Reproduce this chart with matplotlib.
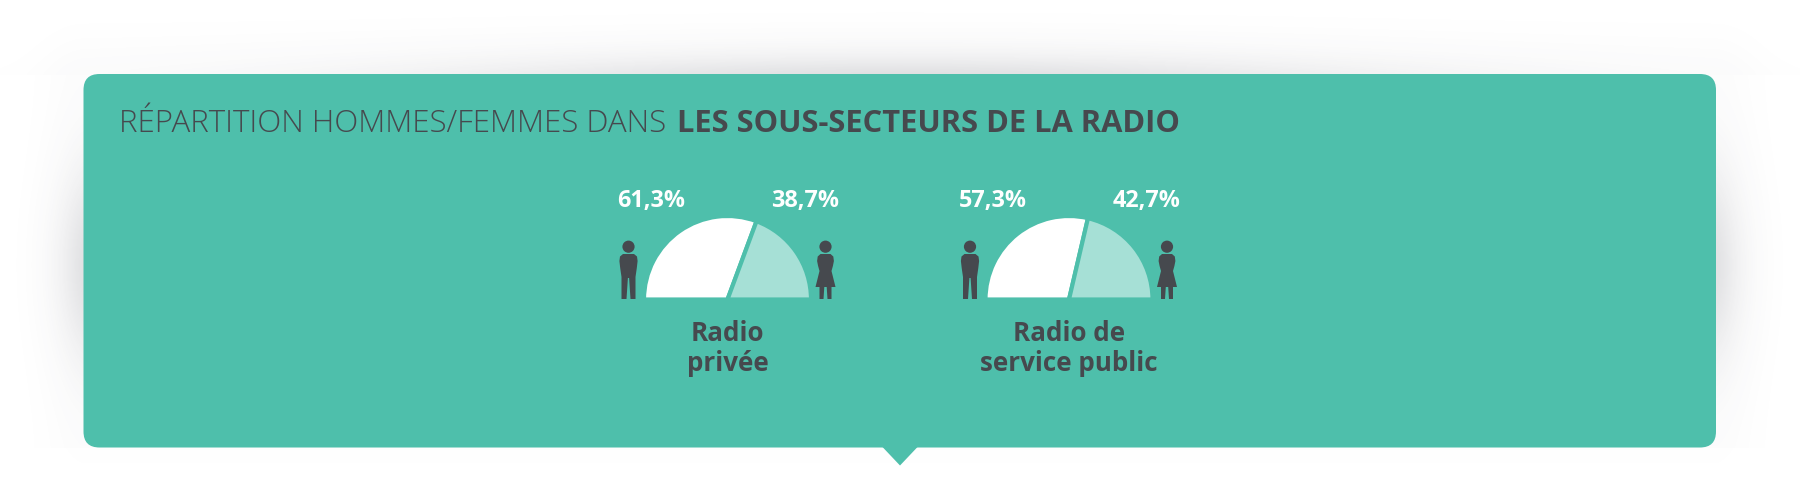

import numpy as np
import matplotlib
matplotlib.use("Agg")
import matplotlib.pyplot as plt
from matplotlib.patches import FancyBboxPatch, Polygon, Circle

titre_leger = "RÉPARTITION HOMMES/FEMMES DANS"
titre_gras = "LES SOUS-SECTEURS DE LA RADIO"
categories = ["Radio\nprivée", "Radio de\nservice public"]
hommes = [61.3, 57.3]
femmes = [38.7, 42.7]
etiquettes_h = ["61,3%", "57,3%"]
etiquettes_f = ["38,7%", "42,7%"]

VERT = "#4ebfab"
CLAIR = "#a6e0d6"
GRIS = "#46494e"
BLANC = "#ffffff"
POLICE = "Open Sans"

W, H = 1800, 500
fig = plt.figure(figsize=(W / 100, H / 100), dpi=100, facecolor="white")
ax = fig.add_axes([0, 0, 1, 1])
ax.set_xlim(0, W)
ax.set_ylim(H, 0)
ax.axis("off")

# soft, uneven shadow around the panel
L, T, Rt, B = 83.5, 74, 1716, 447.5
yy, xx = np.mgrid[0:H, 0:W] + 0.5
dx = np.maximum(np.maximum(L - xx, xx - Rt), 0)
dy = np.maximum(np.maximum(T - yy, yy - B), 0)
dist = np.hypot(dx, dy)
cote = 0.14 * np.exp(-(dx / 25) ** 1.4) * np.exp(-((yy - 265) / 95) ** 2)
haut = 0.145 * np.exp(-((T - yy).clip(0) / 20) ** 1.3) * np.exp(-((xx - 900) / 480) ** 2) * (yy < T + 1)
halo = 0.012 * np.exp(-(dist / 45) ** 2) * (1 - 0.8 * (yy > B))
rgba = np.zeros((H, W, 4))
rgba[..., :3] = np.array([0.24, 0.25, 0.30])
rgba[..., 3] = np.clip(cote + haut + halo, 0, 1)
ax.imshow(rgba, extent=(0, W, H, 0), aspect="auto", zorder=0, interpolation="bilinear")

r = 16
ax.add_patch(FancyBboxPatch((L + r, T + r), Rt - L - 2 * r, B - T - 2 * r,
                            boxstyle=f"round,pad={r},rounding_size={r}", fc=VERT, ec="none", zorder=1))
ax.add_patch(Polygon([(882, B - 1), (918, B - 1), (900, 465.5)], closed=True, fc=VERT, ec="none", zorder=1))

ax.text(119, 124, titre_leger, family=POLICE, weight=300, fontsize=22.5, color=GRIS,
        va="center", ha="left", zorder=3)
ax.text(677, 124, titre_gras, family=POLICE, weight="bold", fontsize=22.2, color=GRIS,
        va="center", ha="left", zorder=3)

centres = [727.5, 1069]
R = 83.5
CY = 299.5


def person(cx, female):
    ax.add_patch(Circle((cx, 246.7), 6.1, fc=GRIS, ec="none", zorder=3))
    if female:
        demi = [(0, 254), (5, 254), (7.8, 256.5), (8.4, 261), (7.4, 266), (6, 271),
                (7.5, 277), (10, 287), (6, 287), (6, 299), (2, 299), (1.2, 287), (0, 287)]
    else:
        demi = [(0, 254), (5.5, 254), (8.5, 256.5), (9.1, 261), (8.3, 268), (7, 277),
                (7, 299), (2, 299), (0.6, 278), (0, 278)]
    pts = [(cx + x, y) for x, y in demi] + [(cx - x, y) for x, y in reversed(demi)]
    ax.add_patch(Polygon(pts, closed=True, fc=GRIS, ec="none", zorder=3))


for i, c in enumerate(centres):
    m = 4
    a = fig.add_axes([(c - R - m) / W, 1 - (CY + R + m) / H, (2 * R + 2 * m) / W, (2 * R + 2 * m) / H], zorder=2)
    wedges, _ = a.pie([hommes[i], femmes[i], 100], colors=[BLANC, CLAIR, "none"], startangle=180,
                      counterclock=False, radius=1, wedgeprops=dict(edgecolor=VERT, linewidth=3.0))
    wedges[2].set_visible(False)
    a.set_xlim(-1 - m / R, 1 + m / R)
    a.set_ylim(-1 - m / R, 1 + m / R)
    a.axis("off")
    a.patch.set_alpha(0)
    person(c - 99, False)
    person(c + 98, True)
    ax.text(c - 76, 201, etiquettes_h[i], family=POLICE, weight="bold", fontsize=16.8, color=BLANC,
            ha="center", va="center", zorder=3)
    ax.text(c + 77.5, 201, etiquettes_f[i], family=POLICE, weight="bold", fontsize=16.8, color=BLANC,
            ha="center", va="center", zorder=3)
    ax.text(c, 348.5, categories[i], family=POLICE, weight="bold", fontsize=18.7, color=GRIS,
            ha="center", va="center", linespacing=1.14, zorder=3)

fig.savefig("out.png", dpi=100, facecolor="white")
